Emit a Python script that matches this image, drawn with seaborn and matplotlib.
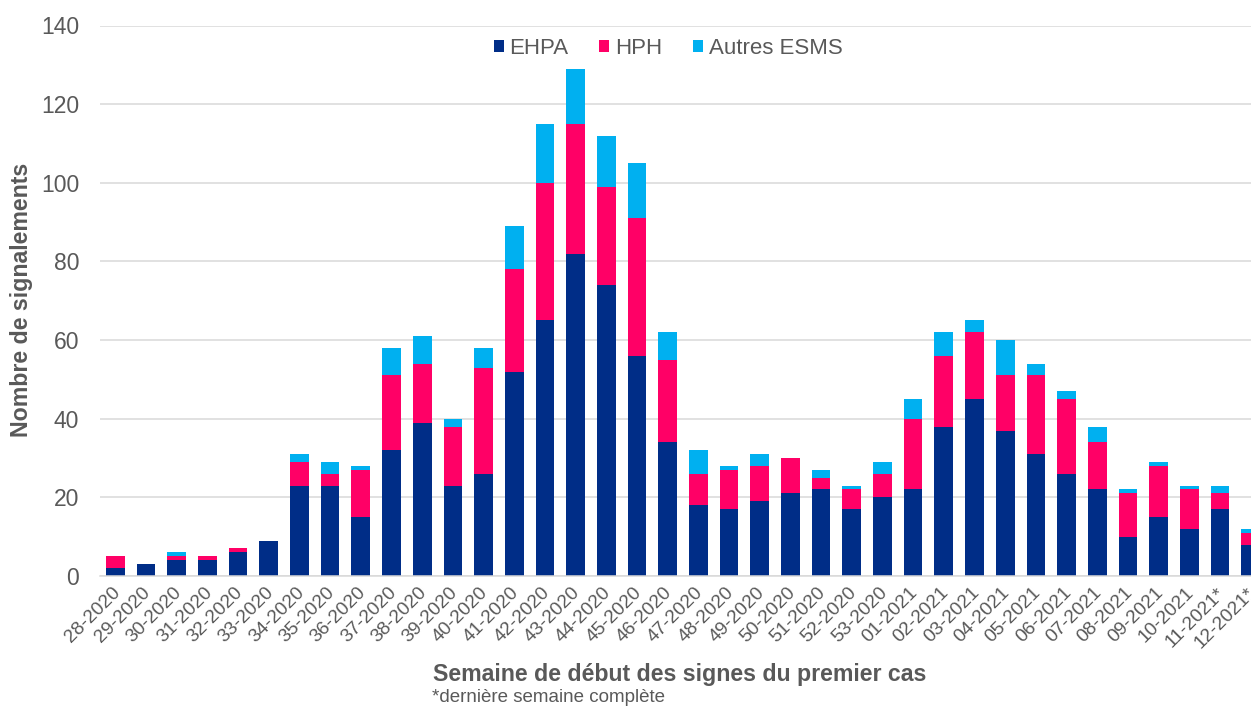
import matplotlib
matplotlib.use("Agg")
import matplotlib.pyplot as plt
import matplotlib.transforms as mtransforms
from matplotlib.patches import Patch
import numpy as np
import pandas as pd
import seaborn as sns

# Weekly reports by type of establishment
weeks = [
    "28-2020", "29-2020", "30-2020", "31-2020", "32-2020", "33-2020", "34-2020",
    "35-2020", "36-2020", "37-2020", "38-2020", "39-2020", "40-2020", "41-2020",
    "42-2020", "43-2020", "44-2020", "45-2020", "46-2020", "47-2020", "48-2020",
    "49-2020", "50-2020", "51-2020", "52-2020", "53-2020", "01-2021", "02-2021",
    "03-2021", "04-2021", "05-2021", "06-2021", "07-2021", "08-2021", "09-2021",
    "10-2021", "11-2021*", "12-2021*",
]
ehpa = [2, 3, 4, 4, 6, 9, 23, 23, 15, 32, 39, 23, 26, 52, 65, 82, 74, 56, 34,
        18, 17, 19, 21, 22, 17, 20, 22, 38, 45, 37, 31, 26, 22, 10, 15, 12, 17, 8]
hph = [3, 0, 1, 1, 1, 0, 6, 3, 12, 19, 15, 15, 27, 26, 35, 33, 25, 35, 21,
       8, 10, 9, 9, 3, 5, 6, 18, 18, 17, 14, 20, 19, 12, 11, 13, 10, 4, 3]
autres = [0, 0, 1, 0, 0, 0, 2, 3, 1, 7, 7, 2, 5, 11, 15, 14, 13, 14, 7,
          6, 1, 3, 0, 2, 1, 3, 5, 6, 3, 9, 3, 2, 4, 1, 1, 1, 2, 1]

series_names = ["EHPA", "HPH", "Autres ESMS"]
colors = ["#002D87", "#FF0066", "#00B0F0"]

df = pd.DataFrame({"semaine": weeks, "EHPA": ehpa, "HPH": hph, "Autres ESMS": autres})
df["cum_ehpa"] = df["EHPA"]
df["cum_hph"] = df["EHPA"] + df["HPH"]
df["cum_all"] = df["EHPA"] + df["HPH"] + df["Autres ESMS"]

sns.set_theme(style="white")
plt.rcParams["font.family"] = ["Liberation Sans", "DejaVu Sans"]

W, H = 1251, 706
fig = plt.figure(figsize=(W / 100, H / 100), dpi=100)
# plot area runs past the right edge of the figure, so the last bar is cut
ax = fig.add_axes([100 / W, 130 / H, 1166 / W, 550.5 / H])

grey = "#595959"
bar_w = 0.61
# stacked bars drawn as cumulative layers, tallest first
for col, c in zip(["cum_all", "cum_hph", "cum_ehpa"], colors[::-1]):
    sns.barplot(data=df, x="semaine", y=col, color=c, width=bar_w,
                saturation=1, linewidth=0, ax=ax, zorder=3)

ax.set_xlim(-0.5, 37.5)
ax.set_ylim(0, 140)
ax.set_yticks(np.arange(0, 141, 20))
ax.yaxis.grid(True, color="#D9D9D9", linewidth=1.1, zorder=0)
ax.xaxis.grid(False)
for s in ["top", "right", "left"]:
    ax.spines[s].set_visible(False)
ax.spines["bottom"].set_color("#D9D9D9")
ax.spines["bottom"].set_linewidth(1.1)
ax.spines["bottom"].set_zorder(4)
ax.tick_params(axis="both", length=0)
ax.tick_params(axis="y", labelsize=16.5, labelcolor=grey, pad=15)
ax.set_xticks(range(len(weeks)))
ax.set_xticklabels(weeks, rotation=45, ha="right", rotation_mode="anchor",
                   fontsize=13.8, color=grey)
ax.tick_params(axis="x", pad=6)
# nudge the slanted week labels a little to the left
shift = mtransforms.ScaledTranslation(-4 / 100, 0, fig.dpi_scale_trans)
for lbl in ax.get_xticklabels():
    lbl.set_transform(lbl.get_transform() + shift)
ax.set_xlabel("")
ax.set_ylabel("")

fig.text(22 / W, 1 - 300 / H, "Nombre de signalements", rotation=90,
         ha="center", va="center", fontsize=16.7, fontweight="bold", color=grey)
fig.text(680 / W, 1 - 675 / H, "Semaine de début des signes du premier cas",
         ha="center", va="center", fontsize=16.7, fontweight="bold", color=grey)
fig.text(432 / W, 1 - 697 / H, "*dernière semaine complète",
         ha="left", va="center", fontsize=13.5, color=grey)

handles = [Patch(facecolor=c, edgecolor="none", label=n) for n, c in zip(series_names, colors)]
fig.legend(handles=handles, loc="center", bbox_to_anchor=(668 / W, 1 - 48 / H),
           ncol=3, frameon=False, fontsize=16, labelcolor=grey,
           handlelength=0.45, handleheight=0.45, handletextpad=0.25,
           columnspacing=1.4)

fig.savefig("out.png", dpi=100)
